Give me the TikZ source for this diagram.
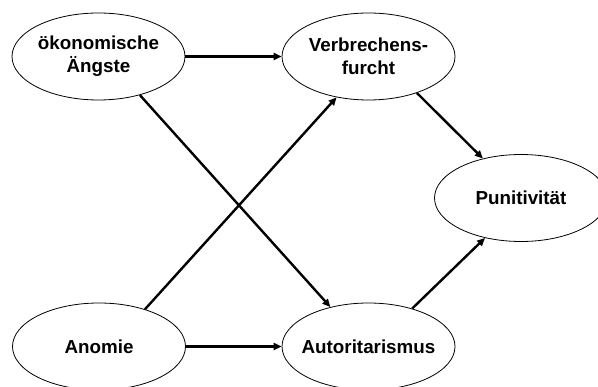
\documentclass[tikz,border=0pt]{standalone}
\usepackage{fontspec}
\setmainfont{Liberation Sans}
\usetikzlibrary{shapes.geometric,arrows.meta}
\tikzset{
  var/.style={ellipse, draw, line width=0.8pt, inner xsep=-8pt, inner ysep=0pt,
    minimum width=173pt, minimum height=87pt, align=center,
    font=\fontsize{18.8}{23}\selectfont\bfseries},
  path/.style={line width=2.4pt, -{Triangle[length=8pt,width=7pt]}}
}
\begin{document}
\begin{tikzpicture}[x=1pt,y=-1pt]
\clip (0,0) rectangle (598,387);
\node[var] (oek) at (98.5,56.5) {ökonomische\\Ängste};
\node[var] (verb) at (368.5,56.5) {Verbrechens-\\furcht};
\node[var] (pun) at (521,198) {Punitivität};
\node[var] (anom) at (99,346.5) {Anomie};
\node[var] (auto) at (368.5,346.5) {Autoritarismus};
\draw[path] (oek.east) -- (verb.west);
\draw[path] (anom.east) -- (auto.west);
\draw[path] (oek.-43) -- (auto.134);
\draw[path] (anom.39) -- (verb.-128);
\draw[path] (verb.-37) -- (pun.134);
\draw[path] (auto.41) -- (pun.-132);
\end{tikzpicture}
\end{document}
